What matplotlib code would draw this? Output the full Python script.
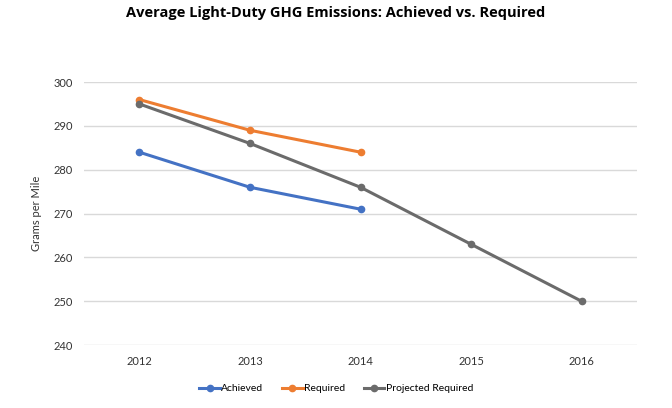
import matplotlib
matplotlib.use('agg')
import matplotlib.pyplot as plt

years = ['2012', '2013', '2014', '2015', '2016']
achieved = [284, 276, 271]
required = [296, 289, 284]
projected = [295, 286, 276, 263, 250]

plt.rcParams['font.family'] = ['Lato', 'DejaVu Sans']

fig = plt.figure(figsize=(6.72, 4.08), dpi=100)
ax = fig.add_axes([0.125, 0.154, 0.823, 0.645])

ax.plot(range(len(achieved)), achieved, color='#4472C4', lw=2.2, marker='o', ms=4.5, label='Achieved')
ax.plot(range(len(required)), required, color='#ED7D31', lw=2.2, marker='o', ms=4.5, label='Required')
ax.plot(range(len(projected)), projected, color='#6B6B6B', lw=2.2, marker='o', ms=4.5, label='Projected Required')

ax.set_xlim(-0.5, 4.5)
ax.set_ylim(240, 300)
ax.set_yticks(range(240, 301, 10))
ax.set_xticks(range(len(years)))
ax.set_xticklabels(years)
ax.grid(axis='y', color='#D9D9D9', lw=1)
ax.set_axisbelow(True)
for s in ax.spines.values():
    s.set_visible(False)
ax.tick_params(length=0, labelsize=8, colors='#333333', pad=8)
ax.set_ylabel('Grams per Mile', fontsize=8, color='#333333', labelpad=8)

fig.suptitle('Average Light-Duty GHG Emissions: Achieved vs. Required',
             x=0.5, y=0.985, fontsize=10.5, fontweight='bold', family='Open Sans')
fig.legend(loc='center', bbox_to_anchor=(0.5, 0.047), ncol=3, frameon=False,
           fontsize=7.5, handlelength=2.0, columnspacing=1.8, handletextpad=0.1)

fig.savefig('out.png', dpi=100)
